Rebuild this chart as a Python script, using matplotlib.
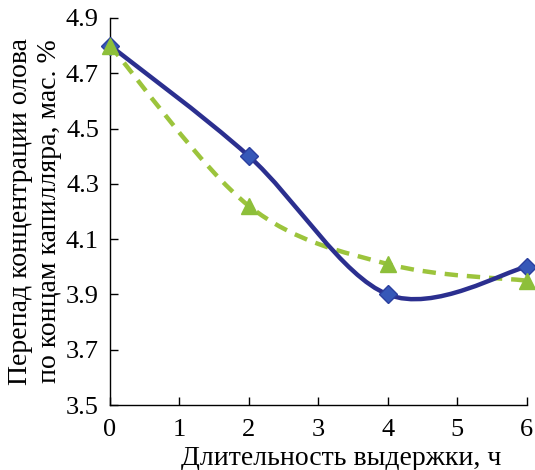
import matplotlib
matplotlib.use("Agg")
import matplotlib.pyplot as plt
from matplotlib.path import Path
from matplotlib.patches import PathPatch

plt.rcParams['font.family'] = ['Liberation Serif', 'DejaVu Serif']
plt.rcParams['mathtext.fontset'] = 'stix'

# данные
hours = [0, 2, 4, 6]
series_a = [4.80, 4.40, 3.90, 4.00]   # синяя линия, ромбы
series_b = [4.80, 4.22, 4.01, 3.95]   # зелёная пунктирная, треугольники
xticks = [0, 1, 2, 3, 4, 5, 6]
yticks = [3.5, 3.7, 3.9, 4.1, 4.3, 4.5, 4.7, 4.9]


def smooth_path(xs, ys):
    # сглаживание как в Excel: кривые Безье через точки
    pts = list(zip(xs, ys))
    n = len(pts)
    verts = [pts[0]]
    codes = [Path.MOVETO]
    for i in range(n - 1):
        p0 = pts[i - 1] if i > 0 else pts[i]
        p1 = pts[i]
        p2 = pts[i + 1]
        p3 = pts[i + 2] if i + 2 < n else pts[i + 1]
        c1 = (p1[0] + (p2[0] - p0[0]) / 6, p1[1] + (p2[1] - p0[1]) / 6)
        c2 = (p2[0] - (p3[0] - p1[0]) / 6, p2[1] - (p3[1] - p1[1]) / 6)
        verts += [c1, c2, p2]
        codes += [Path.CURVE4] * 3
    return Path(verts, codes)


fig = plt.figure(figsize=(5.35, 4.7), dpi=100)
ax = fig.add_axes([0.2056, 0.138, 0.779, 0.824])

ax.add_patch(PathPatch(smooth_path(hours, series_a), fill=False,
                       edgecolor='#2b2f8f', lw=3.2, zorder=3))
ax.add_patch(PathPatch(smooth_path(hours, series_b), fill=False,
                       edgecolor='#9cc43c', lw=3.2, linestyle=(0, (3, 2)), zorder=2))

ax.plot(hours, series_a, linestyle='none', marker='D', ms=9,
        mfc='#3658b8', mec='#2b3f9f', zorder=4, clip_on=False)
ax.plot(hours, series_b, linestyle='none', marker='^', ms=12,
        mfc='#8dbf3a', mec='#8dbf3a', zorder=5, clip_on=False)

ax.set_xlim(0, 6)
ax.set_ylim(3.5, 4.9)
ax.set_xticks(xticks)
ax.set_yticks(yticks)
ax.set_yticklabels([f"{v:.1f}" for v in yticks])

for side in ['top', 'right']:
    ax.spines[side].set_visible(False)
for side in ['left', 'bottom']:
    ax.spines[side].set_linewidth(1.0)
ax.tick_params(direction='in', length=6, width=1.0, labelsize=19, pad=8)
ax.tick_params(axis='x', pad=10)

ax.set_xlabel('Длительность выдержки, ч', fontsize=20)
ax.xaxis.set_label_coords(0.555, -0.105, transform=ax.transAxes)
ax.xaxis.label.set_va('top')
ax.set_ylabel('Перепад концентрации олова\nпо концам капилляра, мас. %',
              fontsize=20, labelpad=3, linespacing=1.22)

fig.savefig('out.png', dpi=100)
